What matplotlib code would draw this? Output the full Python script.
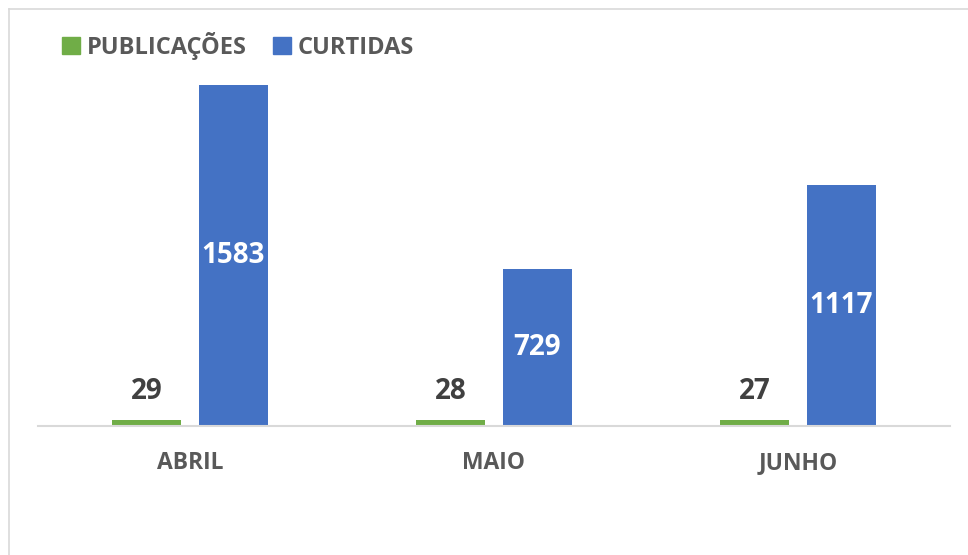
import matplotlib
matplotlib.use("Agg")
import matplotlib.pyplot as plt
from matplotlib.lines import Line2D
from matplotlib.patches import Rectangle
import numpy as np

FONT = ['Open Sans', 'DejaVu Sans']
plt.rcParams['font.family'] = FONT

categories = ["ABRIL", "MAIO", "JUNHO"]
publicacoes = [29, 28, 27]
curtidas = [1583, 729, 1117]
series_names = ["PUBLICAÇÕES", "CURTIDAS"]

GREEN = "#70AD47"
BLUE = "#4472C4"

W, H = 968, 555
fig = plt.figure(figsize=(W / 100, H / 100), dpi=100)
fig.patch.set_facecolor("white")

ax_left, ax_right, ax_bottom_px, ax_top_px = 38, 950, 426, 70
ax = fig.add_axes([ax_left / W, (H - ax_bottom_px) / H,
                   (ax_right - ax_left) / W, (ax_bottom_px - ax_top_px) / H])

x = np.arange(len(categories))
bw = 0.224
off = 0.143
b1 = ax.bar(x - off, publicacoes, bw, color=GREEN, zorder=2)
b2 = ax.bar(x + off, curtidas, bw, color=BLUE, zorder=2)

ax.set_xlim(-0.5, len(categories) - 0.5)
ax.set_ylim(0, 1583 * (ax_bottom_px - ax_top_px) / (ax_bottom_px - 85))

for s in ["top", "right", "left"]:
    ax.spines[s].set_visible(False)
ax.spines["bottom"].set_color("#d9d9d9")
ax.spines["bottom"].set_linewidth(1.5)
ax.set_yticks([])
ax.set_xticks(x)
ax.set_xticklabels(categories, fontsize=16.5, fontweight="bold", color="#595959")
ax.tick_params(axis="x", length=0, pad=18)

for rect, v in zip(b1, publicacoes):
    ax.annotate(str(v), (rect.get_x() + rect.get_width() / 2, v),
                xytext=(0, 10), textcoords="offset points", ha="center", va="bottom",
                fontsize=20, fontweight="bold", color="#404040")
for rect, v in zip(b2, curtidas):
    ax.text(rect.get_x() + rect.get_width() / 2, v / 2, str(v), ha="center", va="center",
            fontsize=20, fontweight="bold", color="white")

handles = [Rectangle((0, 0), 1, 1, color=GREEN), Rectangle((0, 0), 1, 1, color=BLUE)]
leg = fig.legend(handles, series_names, loc="center left",
                 bbox_to_anchor=(41 / W, 1 - 46 / H), ncol=2, frameon=False,
                 handlelength=0.75, handleheight=0.75, handletextpad=0.3,
                 columnspacing=1.1,
                 prop={"size": 17, "weight": "bold", "family": FONT})
for t in leg.get_texts():
    t.set_color("#595959")

# chart frame
fig.add_artist(Line2D([9 / W, 1.0], [1 - 9 / H, 1 - 9 / H], color="#d9d9d9", lw=1.2))
fig.add_artist(Line2D([9 / W, 9 / W], [0, 1 - 9 / H], color="#d9d9d9", lw=1.2))

fig.savefig("out.png", dpi=100)
